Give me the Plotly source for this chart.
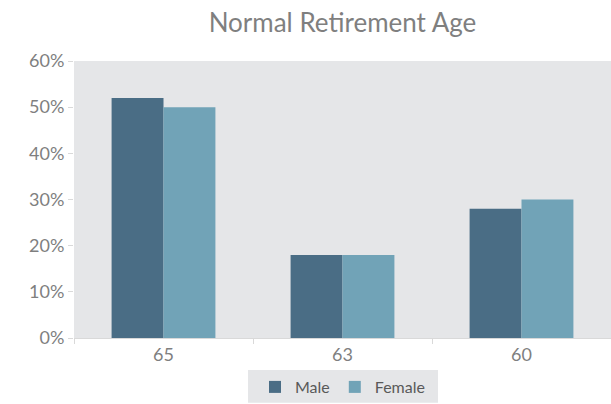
import plotly.graph_objects as go

categories = ["65", "63", "60"]
male = [52, 18, 28]
female = [50, 18, 30]
tick_vals = [0, 10, 20, 30, 40, 50, 60]
tick_text = ["0%", "10%", "20%", "30%", "40%", "50%", "60%"]

FONT = "Lato, Open Sans, Liberation Sans, Arial"
GRAY_TXT = "#7f7f7f"

fig = go.Figure()
fig.add_trace(go.Bar(name="Male", x=categories, y=male, marker_color="#4a6d85", marker_line_width=0))
fig.add_trace(go.Bar(name="Female", x=categories, y=female, marker_color="#71a3b7", marker_line_width=0))

fig.update_layout(
    width=611, height=404,
    margin=dict(l=74, r=0, t=61, b=65),
    paper_bgcolor="white",
    plot_bgcolor="#e5e6e8",
    barmode="group",
    bargap=0.42,
    bargroupgap=0,
    title=dict(text="Normal Retirement Age", x=(74 + 611) / 2 / 611, xanchor="center",
               y=1 - 23 / 404, yanchor="middle",
               font=dict(family=FONT, size=26, color=GRAY_TXT)),
    font=dict(family=FONT, color=GRAY_TXT),
    showlegend=True,
    legend=dict(orientation="h", x=0.5, xanchor="center", y=-0.176, yanchor="middle",
                bgcolor="rgba(0,0,0,0)", font=dict(family=FONT, size=16, color="#595959"),
                itemwidth=30, traceorder="normal"),
    shapes=[dict(type="rect", xref="paper", yref="paper",
                 x0=(248 - 74) / 537, x1=(438 - 74) / 537,
                 y0=(339 - 404) / 278, y1=(339 - 371) / 278,
                 fillcolor="#e5e6e8", line_width=0, layer="below")],
)
fig.update_xaxes(showgrid=False, showline=True, linecolor="#d9d9d9", linewidth=1,
                 ticks="outside", tickson="boundaries", ticklen=5, tickcolor="#d9d9d9",
                 tickfont=dict(family=FONT, size=18, color=GRAY_TXT))
fig.update_yaxes(range=[0, 60], tickvals=tick_vals, ticktext=tick_text, showgrid=False,
                 zeroline=False, showline=False, ticks="outside", ticklen=5, tickcolor="#d9d9d9",
                 tickfont=dict(family=FONT, size=18, color=GRAY_TXT))

fig.write_html("out.html", config={"displayModeBar": False},
               post_script="document.body.style.margin='0';document.body.style.overflow='hidden';")
